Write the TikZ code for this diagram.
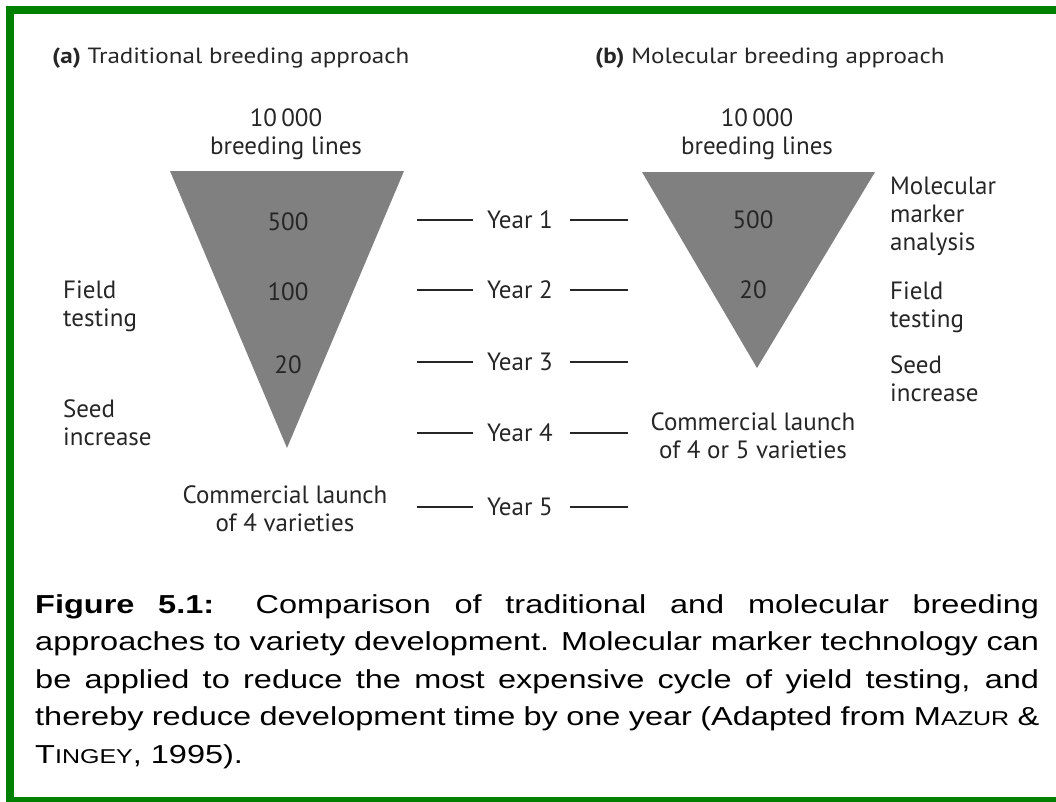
\documentclass[tikz,border=0pt]{standalone}
\usepackage{fontspec}
\newfontfamily\figfont{PT Sans}
\newfontfamily\ttlfont[FakeStretch=1.14]{PT Sans}
\newfontfamily\capfont[FakeStretch=1.25]{Liberation Sans}
\usepackage{tikz}
\usetikzlibrary{positioning}

\definecolor{framegreen}{RGB}{0,128,0}
\definecolor{funnelgray}{RGB}{128,128,128}
\newcommand{\smallcap}[1]{{\fontsize{20}{37.5}\selectfont #1}}

\tikzset{
  lbl/.style={font=\figfont\fontsize{25}{28}\selectfont, text=black!85, inner sep=0pt, align=center},
  side/.style={lbl, align=left, anchor=west},
  ttl/.style={font=\ttlfont\fontsize{22}{25}\selectfont, text=black!85, inner sep=0pt, anchor=west},
  funnel/.style={fill=funnelgray},
  yeardash/.style={line width=2pt, black!85}
}

\begin{document}
\begin{tikzpicture}[x=1pt,y=-1pt]
    \useasboundingbox (0,0) rectangle (1056,801);
    \clip (0,0) rectangle (1056,801);

    % Green frame, cut off at right and bottom
    \draw[framegreen, line width=8pt] (1060,10) -- (10,10) -- (10,801) -- (1060,801);

    % Titles
    \node[ttl] (titleA) at (52,58) {\textbf{(a)} Traditional breeding approach};
    \node[ttl] (titleB) at (595,58) {\textbf{(b)} Molecular breeding approach};

    % Traditional funnel
    \node[lbl] (startA) at (286,134) {10\,000\\breeding lines};
    \fill[funnel] (170,171) -- (404,171) -- (287,448) -- cycle;
    \node[lbl] (nA1) at (288,222) {500};
    \node[lbl] (nA2) at (288,292) {100};
    \node[lbl] (nA3) at (288,365) {20};
    \node[side] (fieldA) at (63,306) {Field\\testing};
    \node[side] (seedA) at (63,423) {Seed\\increase};
    \node[lbl] (launchA) at (285,509) {Commercial launch\\of 4 varieties};

    % Molecular funnel
    \node[lbl] (startB) at (757,134) {10\,000\\breeding lines};
    \fill[funnel] (642,172) -- (875,172) -- (757,368) -- cycle;
    \node[lbl] (nB1) at (753,220) {500};
    \node[lbl] (nB2) at (753,290) {20};
    \node[side] (markerB) at (890,216) {Molecular\\marker\\analysis};
    \node[side] (fieldB) at (890,307) {Field\\testing};
    \node[side] (seedB) at (890,379) {Seed\\increase};
    \node[lbl] (launchB) at (753,436) {Commercial launch\\of 4 or 5 varieties};

    % Years in between
    \foreach \n/\yy in {1/220,2/290,3/362,4/433,5/507} {
        \node[lbl] (year\n) at (520,\yy) {Year \n};
        \draw[yeardash] (417,\yy) -- (473,\yy);
        \draw[yeardash] (570,\yy) -- (628,\yy);
    }

    % Caption
    \node[anchor=north west, inner sep=0pt, text width=1004pt, align=justify,
          font=\capfont\fontsize{26}{37.5}\selectfont] (caption) at (35,594)
        {\textbf{Figure 5.1:} Comparison of traditional and molecular breeding\linebreak
         approaches to variety development. Molecular marker technology can\linebreak
         be applied to reduce the most expensive cycle of yield testing, and\linebreak
         thereby reduce development time by one year (Adapted from M\smallcap{AZUR} \&\linebreak
         T\smallcap{INGEY}, 1995).};
\end{tikzpicture}
\end{document}
